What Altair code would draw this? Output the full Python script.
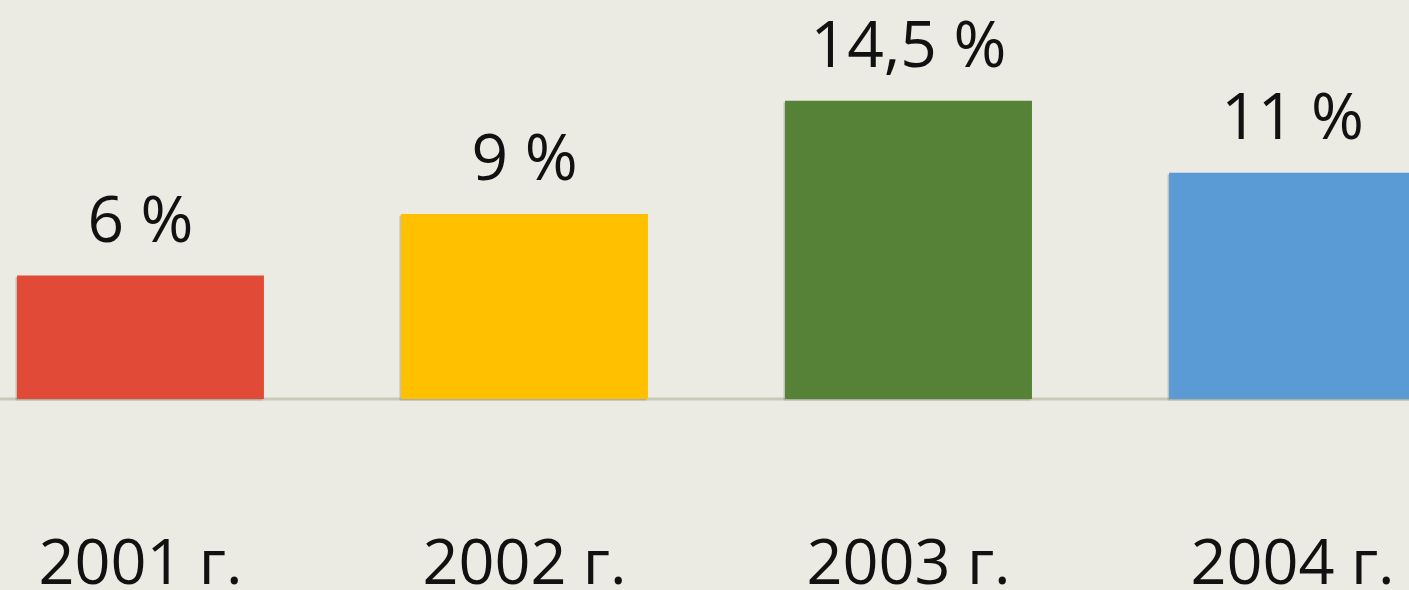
import altair as alt
import pandas as pd

years = ["2001 г.", "2002 г.", "2003 г.", "2004 г."]
values = [6, 9, 14.5, 11]
labels = ["6 %", "9 %", "14,5 %", "11 %"]
colors = ["#E04A36", "#FFC000", "#558237", "#5A9AD5"]

df = pd.DataFrame({"year": years, "value": values, "label": labels, "color": colors})

x = alt.X("year:N", sort=years,
          scale=alt.Scale(range=[17, 1416], paddingInner=0.357, paddingOuter=0),
          axis=alt.Axis(title=None, domain=False, ticks=False, labelAngle=0,
                        labelFont="Open Sans", labelFontSize=63, labelColor="#111111",
                        labelPadding=184, labelBaseline="alphabetic", labelLimit=0,
                        labelOverlap=False))
y = alt.Y("value:Q", scale=alt.Scale(domain=[0, 19.4], nice=False), axis=None)

shadow = alt.Chart(df).mark_bar(color="#8f8f86", opacity=0.45, xOffset=-1.5, yOffset=1.5).encode(x=x, y=y)
bars = alt.Chart(df).mark_bar().encode(x=x, y=y, color=alt.Color("color:N", scale=None))
text = alt.Chart(df).mark_text(font="Open Sans", fontSize=64, color="#111111",
                               baseline="alphabetic", dy=-34).encode(x=x, y=y, text="label:N")
base = alt.Chart(pd.DataFrame({"z": [0]})).mark_rule(color="#C9CAB8", strokeWidth=3).encode(
    x=alt.value(0), x2=alt.value(1409),
    y=alt.Y("z:Q", scale=alt.Scale(domain=[0, 19.4], nice=False), axis=None))

chart = alt.layer(base, shadow, bars, text).properties(
    width=1409, height=399,
    autosize=alt.AutoSizeParams(type="none"),
    padding={"left": 0, "top": 0, "right": 0, "bottom": 191},
    background="#EBEAE3",
).configure_view(stroke=None)

chart.save("out.html", embed_options={"renderer": "svg", "actions": False})
